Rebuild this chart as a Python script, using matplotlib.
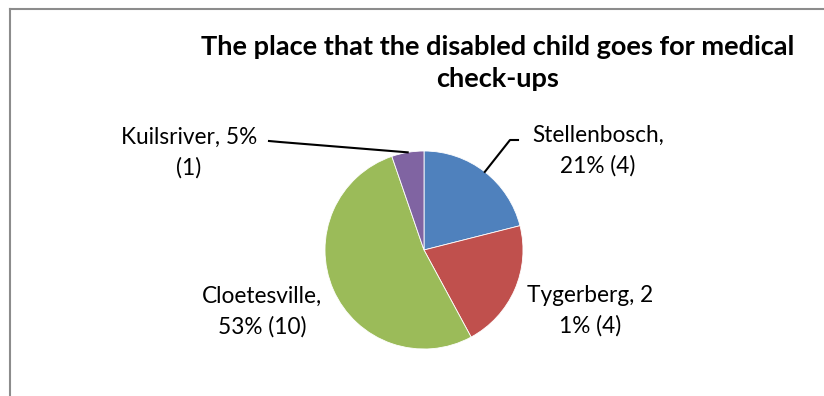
import numpy as np
import matplotlib
matplotlib.use("Agg")
import matplotlib.pyplot as plt
from matplotlib.lines import Line2D

plt.rcParams['font.family'] = ['Lato', 'DejaVu Sans']

# Where the disabled child is taken for check-ups (counts of respondents)
places = ['Stellenbosch', 'Tygerberg', 'Cloetesville', 'Kuilsriver']
counts = [4, 4, 10, 1]
labels = ['Stellenbosch,\n21% (4)', 'Tygerberg, 2\n1% (4)',
          'Cloetesville,\n53% (10)', 'Kuilsriver, 5%\n(1)']
colors = ['#4F81BD', '#C0504D', '#9BBB59', '#8064A2']

W, H = 824, 396
fig = plt.figure(figsize=(W / 100, H / 100), dpi=100)

# grey chart frame (cut off on the right and bottom)
fig.add_artist(Line2D([10 / W, 10 / W], [0, 1 - 9 / H], color='#8c8c8c', lw=1.5))
fig.add_artist(Line2D([10 / W, 1], [1 - 9 / H, 1 - 9 / H], color='#8c8c8c', lw=1.5))

fig.text(498 / W, 1 - 63 / H,
         'The place that the disabled child goes for medical\ncheck-ups',
         ha='center', va='center', fontsize=19.5, fontweight='bold',
         linespacing=1.38)

cx, cy, r = 424, 250, 99
ax = fig.add_axes([(cx - r) / W, (H - cy - r) / H, 2 * r / W, 2 * r / H])
wedges, _ = ax.pie(counts, colors=colors, startangle=90, counterclock=False,
                   radius=1, wedgeprops=dict(linewidth=0.6, edgecolor='white'))
ax.set_xlim(-1, 1)
ax.set_ylim(-1, 1)
ax.axis('off')


def px(x, y):
    # pixel position -> pie data units
    return (x - cx) / r, (cy - y) / r


label_pos = [(598, 151), (590, 311), (262, 312), (189, 153)]
for lab, (lx, ly) in zip(labels, label_pos):
    fig.text(lx / W, 1 - ly / H, lab, ha='center', va='center',
             fontsize=16.3, linespacing=1.55)

# leader lines for the two top labels
mid = [np.deg2rad((w.theta1 + w.theta2) / 2) for w in wedges]
elbows = {0: [(510, 140), (518, 140)], 3: [(280, 142), (269, 141)]}
for i, pts in elbows.items():
    xs = [np.cos(mid[i])] + [px(*p)[0] for p in pts]
    ys = [np.sin(mid[i])] + [px(*p)[1] for p in pts]
    ax.plot(xs, ys, color='black', lw=1.5, clip_on=False)

fig.savefig('out.png', dpi=100)
